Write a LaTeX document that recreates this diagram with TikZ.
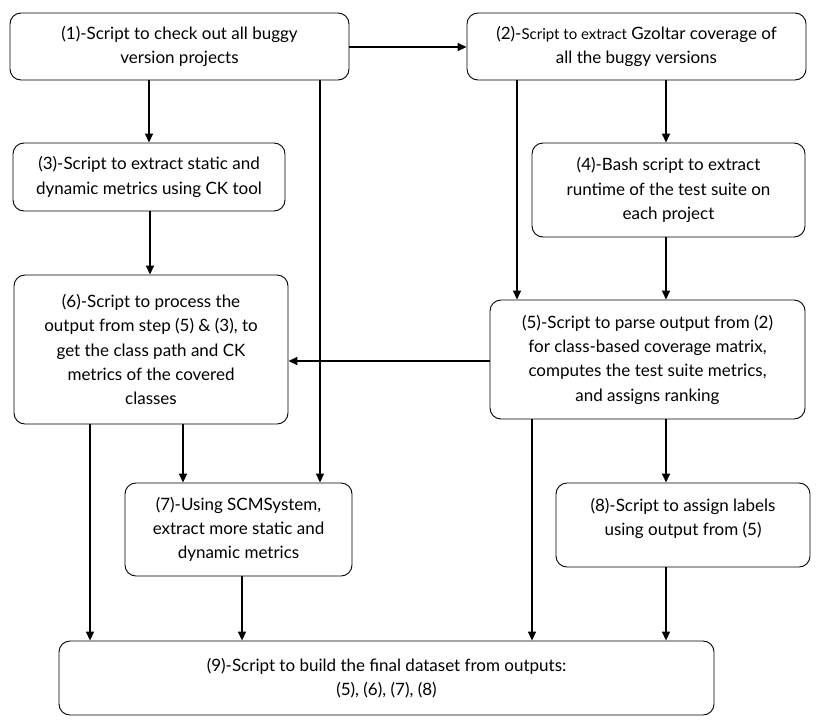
\documentclass[tikz,border=0pt]{standalone}
\usepackage{fontspec}
\setmainfont{Lato}
\usetikzlibrary{arrows.meta}
\begin{document}
\begin{tikzpicture}[x=1pt,y=-1pt,
  box/.style={draw=black, line width=0.9pt, rounded corners=11pt, align=center,
    inner sep=0pt, font=\fontsize{17}{24.3}\selectfont},
  arr/.style={draw=black, line width=1.5pt, -{Triangle[length=9pt,width=8pt]}}]
\useasboundingbox (0,0) rectangle (826,721);
\fill[white] (0,0) rectangle (826,721);
% boxes: centre, size
\node[box, minimum width=339pt, minimum height=67pt] (b1) at (179.5,46.5)
  {(1)-Script to check out all buggy\\version projects};
\node[box, minimum width=339pt, minimum height=67pt] (b2) at (636.5,46.5)
  {(2)-{\fontsize{15}{24}\selectfont Script to extract} Gzoltar coverage of\\all the buggy versions};
\node[box, minimum width=272pt, minimum height=68pt] (b3) at (149,177)
  {(3)-Script to extract static and\\dynamic metrics using CK tool};
\node[box, minimum width=273pt, minimum height=94pt] (b4) at (668.5,190)
  {(4)-Bash script to extract\\runtime of the test suite on\\each project};
\node[box, minimum width=274pt, minimum height=149pt] (b6) at (151,349.5)
  {(6)-Script to process the\\output from step (5) \& (3), to\\get the class path and CK\\metrics of the covered\\classes};
\node[box, minimum width=315pt, minimum height=119pt] (b5) at (647.5,359.5)
  {(5)-Script to parse output from (2)\\for class-based coverage matrix,\\computes the test suite metrics,\\and assigns ranking};
\node[box, minimum width=227pt, minimum height=93pt] (b7) at (238.5,529.5)
  {(7)-Using SCMSystem,\\extract more static and\\dynamic metrics};
\node[box, minimum width=254pt, minimum height=84pt] (b8) at (683,525)
  {(8)-Script to assign labels\\using output from (5)\rule[-16pt]{0pt}{0pt}};
\node[box, minimum width=655pt, minimum height=74pt] (b9) at (386.5,678)
  {(9)-Script to build the final dataset from outputs:\\(5), (6), (7), (8)};
% x positions
\coordinate (x90) at (90,0);
\coordinate (x149) at (149,0);
\coordinate (x150) at (150,0);
\coordinate (x183) at (183,0);
\coordinate (x242) at (242,0);
\coordinate (x320) at (320,0);
\coordinate (x517) at (517,0);
\coordinate (x532) at (532,0);
\coordinate (x666) at (666,0);
\coordinate (y47) at (0,47);
\coordinate (y361) at (0,361);
% connectors
\draw[arr] (b1.east |- y47) -- (b2.west |- y47);
\draw[arr] (b1.south -| x149) -- (b3.north -| x149);
\draw[arr] (b1.south -| x320) -- (b7.north -| x320);
\draw[arr] (b2.south -| x517) -- (b5.north -| x517);
\draw[arr] (b2.south -| x666) -- (b4.north -| x666);
\draw[arr] (b3.south -| x150) -- (b6.north -| x150);
\draw[arr] (b4.south -| x666) -- (b5.north -| x666);
\draw[arr] (b5.west |- y361) -- (b6.east |- y361);
\draw[arr] (b6.south -| x183) -- (b7.north -| x183);
\draw[arr] (b6.south -| x90) -- (b9.north -| x90);
\draw[arr] (b7.south -| x242) -- (b9.north -| x242);
\draw[arr] (b5.south -| x532) -- (b9.north -| x532);
\draw[arr] (b5.south -| x666) -- (b8.north -| x666);
\draw[arr] (b8.south -| x666) -- (b9.north -| x666);
\end{tikzpicture}
\end{document}
